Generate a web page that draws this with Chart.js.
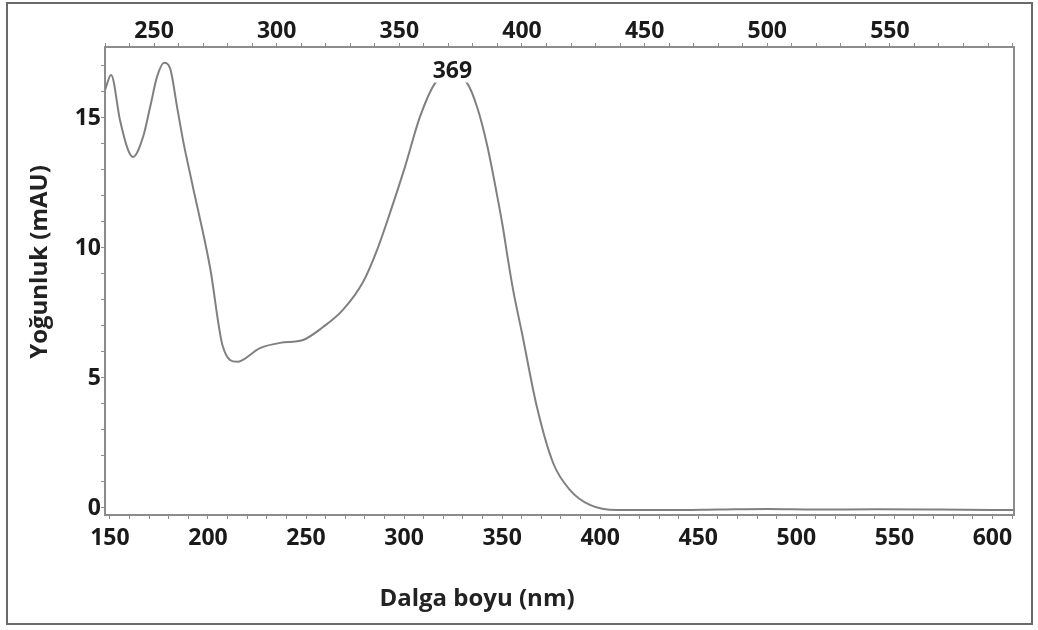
<!DOCTYPE html>
<html>
<head>
<meta charset="utf-8">
<script src="https://cdn.jsdelivr.net/npm/chart.js@4.4.0/dist/chart.umd.min.js"></script>
<style>
  html, body { margin: 0; padding: 0; background: #fff; }
  #wrap { width: 1038px; height: 630px; }
</style>
</head>
<body>
<div id="wrap"><canvas id="spectrum" width="1038" height="630"></canvas></div>
<script>
// --- Data (wavelength on the top scale) ---
const wavelengths = [230.0, 232.5, 236.1, 239.4, 241.4, 245.5, 248.4, 251.2, 254.1, 256.5,
  259.4, 261.8, 265.5, 272.8, 278.1, 283.8, 293.2, 301.4, 310.7, 318.9,
  327.0, 335.2, 340.9, 346.2, 352.3, 358.4, 364.6, 370.0, 377.6, 381.7,
  385.8, 389.8, 392.3, 394.3, 396.4, 400.0, 406.1, 412.7, 419.6, 427.7,
  438.7, 460, 480, 500, 520, 545, 570, 600.6];
const intensity = [16.08, 16.65, 14.92, 13.77, 13.50, 14.27, 15.42, 16.58, 17.12, 16.92,
  15.42, 14.15, 12.50, 9.27, 6.19, 5.62, 6.15, 6.35, 6.46, 6.96,
  7.62, 8.69, 9.92, 11.35, 13.12, 15.04, 16.35, 16.75, 16.35, 15.42,
  13.95, 12.05, 10.75, 9.55, 8.38, 6.73, 3.88, 1.73, 0.69, 0.12,
  -0.08, -0.08, -0.06, -0.04, -0.06, -0.05, -0.06, -0.08];

const bottomTicks = [150, 200, 250, 300, 350, 400, 450, 500, 550, 600];
const topTicks = [250, 300, 350, 400, 450, 500, 550];
const yTicks = [0, 5, 10, 15];
const peakLabel = "369";
const xTitle = "Dalga boyu (nm)";
const yTitle = "Yoğunluk (mAU)";

const tickFont = { family: "'Open Sans', sans-serif", size: 23, weight: "bold" };
const titleFont = "bold 24px 'Open Sans', sans-serif";
const axisGray = "#8c8c8c";

// minor tick marks every `step` between lo and hi
function marks(lo, hi, step) {
  const out = [];
  for (let v = lo; v <= hi + 1e-9; v += step) out.push({ value: v });
  return out;
}

const frameAndTitles = {
  id: "frameAndTitles",
  beforeDraw(chart) {
    const ctx = chart.ctx;
    ctx.save();
    ctx.fillStyle = "#fff";
    ctx.fillRect(0, 0, chart.width, chart.height);
    ctx.strokeStyle = "#6a6a6a";
    ctx.lineWidth = 2;
    ctx.strokeRect(7, 3, 1025, 621);
    ctx.restore();
  },
  afterDraw(chart) {
    const ctx = chart.ctx;
    ctx.save();
    ctx.fillStyle = "#222";
    ctx.font = titleFont;
    ctx.textAlign = "center";
    ctx.textBaseline = "alphabetic";
    ctx.fillText(xTitle, 477, 606);
    ctx.translate(47, 262);
    ctx.rotate(-Math.PI / 2);
    ctx.fillText(yTitle, 0, 0);
    ctx.restore();
  },
  afterDatasetsDraw(chart) {
    // label on the main peak
    const ctx = chart.ctx;
    const data = chart.data.datasets[0].data;
    let top = data[0];
    data.forEach(p => { if (p.x > 300 && p.y > top.y) top = p; });
    const px = chart.scales.xTop.getPixelForValue(top.x) + 4;
    const py = chart.scales.y.getPixelForValue(top.y) - 1;
    ctx.save();
    ctx.font = "bold 23px 'Open Sans', sans-serif";
    const w = ctx.measureText(peakLabel).width;
    ctx.fillStyle = "#fff";
    ctx.fillRect(px - w / 2 - 1, py - 11, w + 2, 22);
    ctx.fillStyle = "#1a1a1a";
    ctx.textAlign = "center";
    ctx.textBaseline = "middle";
    ctx.fillText(peakLabel, px, py);
    ctx.restore();
  }
};

const gridOpts = { display: true, drawOnChartArea: false, drawTicks: true, tickLength: 4, color: axisGray, tickWidth: 1 };
const borderOpts = { display: true, color: axisGray, width: 2 };

new Chart(document.getElementById("spectrum"), {
  type: "line",
  data: {
    datasets: [{
      data: wavelengths.map((w, i) => ({ x: w, y: intensity[i] })),
      xAxisID: "xTop",
      yAxisID: "y",
      borderColor: "#808080",
      borderWidth: 2,
      pointRadius: 0,
      fill: false,
      cubicInterpolationMode: "monotone"
    }]
  },
  options: {
    responsive: false,
    animation: false,
    devicePixelRatio: 1,
    layout: { padding: { left: 27, right: 24, top: 0, bottom: 22 } },
    plugins: { legend: { display: false }, tooltip: { enabled: false } },
    scales: {
      x: {
        type: "linear", position: "bottom", min: 147.5, max: 611,
        afterBuildTicks: s => { s.ticks = marks(150, 610, 10); },
        afterFit: s => { s.height = 93; },
        grid: gridOpts, border: borderOpts,
        ticks: {
          autoSkip: false, maxRotation: 0, padding: 6, color: "#1a1a1a", font: tickFont,
          callback: v => bottomTicks.includes(v) ? String(v) : ""
        }
      },
      xTop: {
        type: "linear", position: "top", min: 230, max: 600.6,
        afterBuildTicks: s => { s.ticks = marks(230, 600, 10); },
        afterFit: s => { s.height = 47; },
        grid: gridOpts, border: borderOpts,
        ticks: {
          autoSkip: false, maxRotation: 0, padding: -2, color: "#1a1a1a", font: tickFont,
          callback: v => topTicks.includes(v) ? String(v) : ""
        }
      },
      y: {
        type: "linear", position: "left", min: -0.27, max: 17.73,
        afterBuildTicks: s => { s.ticks = marks(0, 17, 1); },
        afterFit: s => { s.width = 78; },
        grid: gridOpts, border: borderOpts,
        ticks: {
          autoSkip: false, padding: 0, color: "#1a1a1a", font: tickFont,
          callback: v => yTicks.includes(v) ? String(v) : ""
        }
      },
      yRight: {
        type: "linear", position: "right", min: 0, max: 1,
        afterFit: s => { s.width = 0; },
        grid: { display: false }, border: borderOpts,
        ticks: { display: false }
      }
    }
  },
  plugins: [frameAndTitles]
});
</script>
</body>
</html>
